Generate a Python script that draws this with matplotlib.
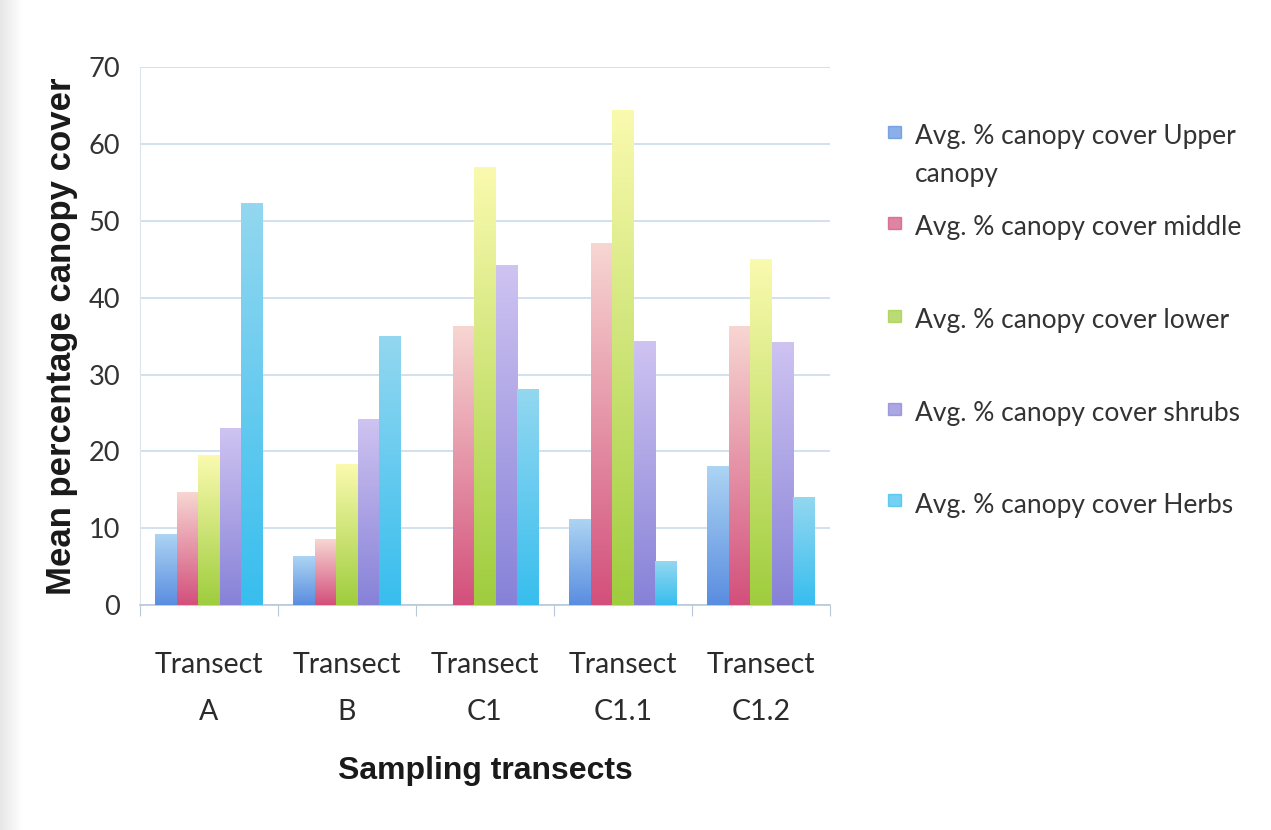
import numpy as np
import matplotlib.pyplot as plt
from matplotlib.colors import to_rgb

transects = ['Transect\nA', 'Transect\nB', 'Transect\nC1', 'Transect\nC1.1', 'Transect\nC1.2']
series_names = ['Avg. % canopy cover Upper\ncanopy', 'Avg. % canopy cover middle',
                'Avg. % canopy cover lower', 'Avg. % canopy cover shrubs',
                'Avg. % canopy cover Herbs']
upper = [9.2, 6.3, 0.0, 11.1, 18.0]
middle = [14.6, 8.5, 36.2, 47.1, 36.2]
lower = [19.4, 18.3, 57.0, 64.3, 45.0]
shrubs = [23.0, 24.2, 44.2, 34.3, 34.1]
herbs = [52.2, 35.0, 28.1, 5.6, 14.0]

# (top colour, bottom colour) for the vertical fill of each series
grad_colors = [('#acd4f3', '#5a8de0'),
               ('#f7d6d2', '#d3507c'),
               ('#fafaae', '#9fcd3e'),
               ('#cec3f1', '#8782d8'),
               ('#93d7f0', '#38beee')]

plt.rcParams['font.family'] = ['Lato', 'DejaVu Sans']

fig = plt.figure(figsize=(12.71, 8.3), dpi=100)
fig.patch.set_facecolor('white')

# soft grey shading along the left edge of the page
shade = fig.add_axes([0, 0, 0.018, 1])
ramp = np.linspace(0.84, 1.0, 64) ** 0.6
shade.imshow(np.tile(ramp, (2, 1)), cmap='gray', vmin=0, vmax=1, aspect='auto')
shade.axis('off')

ax = fig.add_axes([0.110, 0.271, 0.543, 0.648])

x = np.arange(len(transects))
width = 0.155
data = [upper, middle, lower, shrubs, herbs]

for i, vals in enumerate(data):
    offs = (i - 2) * width
    bars = ax.bar(x + offs, vals, width, color='none', edgecolor='none')
    top, bottom = grad_colors[i]
    c0, c1 = np.array(to_rgb(bottom)), np.array(to_rgb(top))
    t = np.linspace(0, 1, 100)[:, None]
    grad = (c0 * (1 - t) + c1 * t)[:, None, :]
    for p in bars.patches:
        h = p.get_height()
        if h <= 0:
            continue
        ax.imshow(grad, extent=[p.get_x(), p.get_x() + p.get_width(), 0, h],
                  origin='lower', aspect='auto', zorder=3, interpolation='bilinear')

ax.set_xlim(-0.5, len(transects) - 0.5)
ax.set_ylim(0, 70)
ax.set_yticks(range(0, 71, 10))
ax.yaxis.grid(True, color='#c9dcea', linewidth=1.2)
ax.set_axisbelow(True)

for s in ['top', 'right']:
    ax.spines[s].set_visible(False)
ax.spines['left'].set_color('#dde4ea')
ax.spines['bottom'].set_color('#b8c8d8')
ax.spines['bottom'].set_linewidth(1.2)

ax.set_xticks(np.arange(-0.5, len(transects)), minor=False)
ax.set_xticklabels([])
ax.set_xticks(x, minor=True)
ax.set_xticklabels(transects, minor=True, fontsize=20.5, color='#2b2b2b', linespacing=2.0)
ax.tick_params(axis='x', which='major', length=8, color='#b8c8d8')
ax.tick_params(axis='x', which='minor', length=0, pad=34)
ax.tick_params(axis='y', length=0, labelsize=19.5, labelcolor='#333333', pad=14)

ax.set_ylabel('Mean percentage canopy cover', fontsize=25, fontweight='bold',
              family=['Liberation Sans', 'DejaVu Sans'], color='#1a1a1a', labelpad=8)
ax.set_xlabel('Sampling transects', fontsize=23, fontweight='bold',
              family=['Liberation Sans', 'DejaVu Sans'], color='#1a1a1a', labelpad=22)

# legend drawn beside the plot
leg_y = [0.842, 0.732, 0.620, 0.508, 0.398]
for i, name in enumerate(series_names):
    top, bottom = grad_colors[i]
    fig.patches.append(plt.Rectangle((0.699, leg_y[i] - 0.008), 0.0095, 0.0145,
                                     transform=fig.transFigure, color=bottom, alpha=0.7))
    fig.text(0.720, leg_y[i] + 0.0085, name, fontsize=19, color='#333333',
             va='top', ha='left', linespacing=1.65)

fig.savefig('out.png', dpi=100)
